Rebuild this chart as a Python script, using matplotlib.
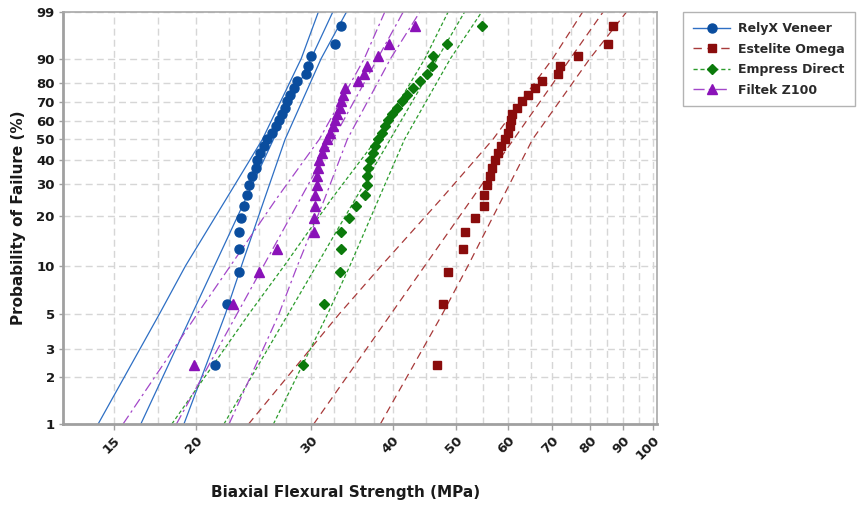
"""Weibull probability plot of biaxial flexural strength for four resin composites."""
import numpy as np
import matplotlib
matplotlib.use("Agg")
import matplotlib.pyplot as plt
from matplotlib.lines import Line2D

# median-rank probabilities (%) shared by all four groups
PROB = [2.4, 5.8, 9.2, 12.6, 16.0, 19.4, 22.8, 26.2, 29.6, 33.0, 36.4, 39.8,
        43.2, 46.6, 50.0, 53.4, 56.8, 60.2, 63.6, 67.0, 70.4, 73.8, 77.2,
        80.6, 84.0, 87.4, 90.8, 94.2, 97.6]

# strength values (MPa)
RELYX = [21.4, 22.3, 23.3, 23.3, 23.3, 23.5, 23.7, 24.0, 24.1, 24.4, 24.7,
         24.8, 25.1, 25.4, 25.7, 26.2, 26.5, 26.8, 27.1, 27.4, 27.6, 27.9,
         28.3, 28.6, 29.5, 29.7, 30.0, 32.7, 33.4]
ESTELITE = [46.7, 47.8, 48.5, 51.2, 51.5, 53.4, 55.1, 55.1, 55.7, 56.3, 56.7,
            57.3, 57.9, 58.6, 59.3, 60.0, 60.4, 60.7, 60.9, 61.9, 63.0, 64.3,
            65.9, 67.5, 71.5, 72.1, 76.7, 85.2, 86.7]
EMPRESS = [29.2, 31.4, 33.2, 33.4, 33.4, 34.3, 35.2, 36.3, 36.5, 36.5, 36.7,
           36.9, 37.3, 37.6, 38.0, 38.5, 38.9, 39.4, 39.9, 40.6, 41.3, 42.0,
           43.0, 44.0, 45.1, 45.9, 46.1, 48.4, 54.8]
FILTEK = [19.9, 22.8, 25.0, 26.6, 30.3, 30.3, 30.4, 30.4, 30.6, 30.6, 30.8,
          30.9, 31.2, 31.4, 31.7, 32.1, 32.4, 32.7, 32.9, 33.2, 33.3, 33.6,
          33.8, 35.4, 36.1, 36.5, 38.0, 39.5, 43.3]

# fitted lines (x at 1 % and 99 %)
FIT_PROB = [1, 99]
RELYX_FIT = [16.5, 32.4]
ESTELITE_FIT = [30.3, 83.8]
EMPRESS_FIT = [22.1, 51.5]
FILTEK_FIT = [18.7, 41.5]

# 95 % confidence bounds read at a few probabilities
BOUND_PROB = [1, 5, 10, 25, 50, 90, 99]
RELYX_LO = [14.2, 17.6, 19.3, 22.3, 25.3, 29.0, 30.8]
RELYX_HI = [19.2, 22.2, 23.5, 25.5, 27.4, 31.1, 34.0]
ESTELITE_LO = [24.1, 33.1, 38.4, 47.5, 56.9, 70.2, 78.0]
ESTELITE_HI = [38.3, 47.6, 52.1, 58.8, 65.4, 80.0, 91.0]
EMPRESS_LO = [18.4, 24.1, 27.3, 32.3, 37.8, 44.8, 48.6]
EMPRESS_HI = [26.3, 31.8, 34.4, 38.1, 41.7, 49.0, 54.7]
FILTEK_LO = [15.5, 20.1, 22.6, 26.6, 30.9, 36.2, 38.9]
FILTEK_HI = [22.5, 26.8, 28.6, 31.5, 34.1, 39.7, 44.0]

NAMES = ["RelyX Veneer", "Estelite Omega", "Empress Direct", "Filtek Z100"]
X_TICKS = [15, 20, 30, 40, 50, 60, 70, 80, 90, 100]
X_GRID = [15, 17.5, 20, 22.5, 25, 27.5, 30, 32.5, 35, 37.5, 40, 45, 50, 55,
          60, 65, 70, 75, 80, 85, 90, 95, 100]
Y_TICKS = [1, 2, 3, 5, 10, 20, 30, 40, 50, 60, 70, 80, 90, 99]


def weibull_fwd(p):
    p = np.clip(np.asarray(p, dtype=float), 1e-6, 100 - 1e-6) / 100.0
    return np.log(-np.log(1.0 - p))


def weibull_inv(y):
    return 100.0 * (1.0 - np.exp(-np.exp(np.asarray(y, dtype=float))))


series = [
    (RELYX, RELYX_FIT, RELYX_LO, RELYX_HI, "o", 6.5, "#0a4d9e", "#2e6fc4", "-"),
    (ESTELITE, ESTELITE_FIT, ESTELITE_LO, ESTELITE_HI, "s", 6.0, "#8a0c0c", "#a83a3a", (0, (6, 4))),
    (EMPRESS, EMPRESS_FIT, EMPRESS_LO, EMPRESS_HI, "D", 5.5, "#0b7a0b", "#2c9c2c", (0, (3, 2))),
    (FILTEK, FILTEK_FIT, FILTEK_LO, FILTEK_HI, "^", 7.0, "#8a12b8", "#a347c9", (0, (8, 3, 2, 3))),
]

fig = plt.figure(figsize=(8.62, 5.11), dpi=100)
ax = fig.add_axes([63 / 862, 1 - 424 / 511, 594 / 862, 412 / 511])
ax.set_xscale("log")
ax.set_yscale("function", functions=(weibull_fwd, weibull_inv))

handles = []
for (vals, fit, lo, hi, mk, ms, mcol, lcol, ls), name in zip(series, NAMES):
    ax.plot(fit, FIT_PROB, color=lcol, lw=0.9, ls=ls, zorder=2)
    ax.plot(lo, BOUND_PROB, color=lcol, lw=0.9, ls=ls, zorder=2)
    ax.plot(hi, BOUND_PROB, color=lcol, lw=0.9, ls=ls, zorder=2)
    ax.plot(vals, PROB, ls="none", marker=mk, ms=ms, color=mcol,
            markeredgecolor=mcol, zorder=3)
    handles.append(Line2D([0], [0], color=lcol, lw=1.0, ls=ls, marker=mk,
                          ms=ms, markerfacecolor=mcol, markeredgecolor=mcol,
                          label=name))

ax.set_xlim(12.55, 101.3)
ax.set_ylim(1, 99)

ax.set_xticks(X_TICKS)
ax.set_xticklabels([str(t) for t in X_TICKS])
ax.set_xticks(X_GRID, minor=True)
ax.xaxis.set_minor_formatter(matplotlib.ticker.NullFormatter())
ax.set_yticks(Y_TICKS)
ax.set_yticklabels([str(t) for t in Y_TICKS])
ax.yaxis.set_minor_locator(matplotlib.ticker.NullLocator())

ax.grid(which="both", axis="x", color="#d6d6d6", ls=(0, (5, 3)), lw=1.0)
ax.grid(which="major", axis="y", color="#d6d6d6", ls=(0, (5, 3)), lw=1.0)
ax.set_axisbelow(True)

ax.tick_params(axis="x", which="major", length=4, width=1, color="#a0a0a0",
               labelsize=9.5, labelcolor="#1a1a1a", pad=3)
ax.tick_params(axis="x", which="minor", length=0)
ax.tick_params(axis="y", which="major", length=3, width=1, color="#a0a0a0",
               labelsize=9.5, labelcolor="#1a1a1a", pad=3)
for lab in ax.get_xticklabels():
    lab.set_rotation(45)
    lab.set_ha("right")
    lab.set_va("top")
    lab.set_rotation_mode("anchor")
    lab.set_fontweight("bold")
for lab in ax.get_yticklabels():
    lab.set_fontweight("bold")

for side in ["left", "bottom"]:
    ax.spines[side].set_color("#a0a0a0")
    ax.spines[side].set_linewidth(2.0)
for side in ["top", "right"]:
    ax.spines[side].set_color("#a8a8a8")
    ax.spines[side].set_linewidth(1.2)

ax.set_xlabel("Biaxial Flexural Strength (MPa)", fontsize=11, fontweight="bold",
              color="#1a1a1a")
ax.xaxis.set_label_coords((346 - 63) / 594, (424 - 485) / 412)
ax.set_ylabel("Probability of Failure (%)", fontsize=11, fontweight="bold",
              color="#1a1a1a")
ax.yaxis.set_label_coords((26 - 63) / 594, 0.5)

leg = fig.legend(handles=handles, loc="upper left",
                 bbox_to_anchor=(683 / 862, 1 - 12 / 511), frameon=True,
                 fancybox=False, edgecolor="#a0a0a0", handlelength=3.0,
                 borderpad=0.8, labelspacing=0.6, handletextpad=0.6,
                 borderaxespad=0.0, prop={"size": 9, "weight": "bold"})
leg.get_frame().set_linewidth(1.0)
for t in leg.get_texts():
    t.set_color("#2a2a2a")

fig.savefig("out.png", dpi=100)
